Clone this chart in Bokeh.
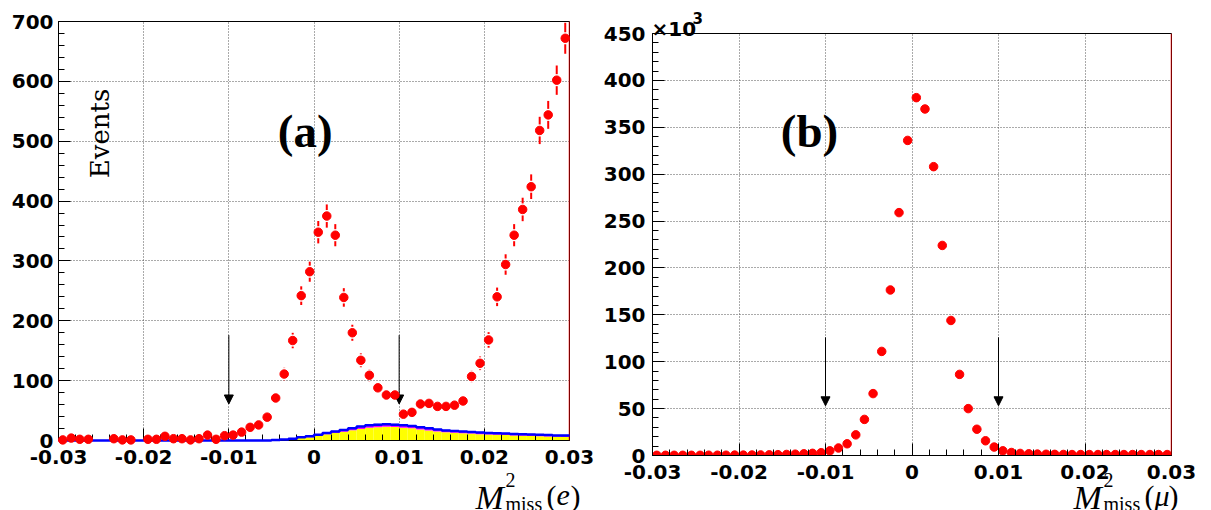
import numpy as np
from bokeh.plotting import figure
from bokeh.models import (SingleIntervalTicker, CustomJSTickFormatter, Arrow,
                          NormalHead, Span, GridBox, Range1d)
from bokeh.core.properties import value
from bokeh.embed import file_html
from bokeh.resources import INLINE

# ---------------- data ----------------
x_lo, x_hi = -0.03, 0.03
n_bins = 60
bin_edges = np.linspace(x_lo, x_hi, n_bins + 1)
bin_centers = 0.5 * (bin_edges[:-1] + bin_edges[1:])
nan = float("nan")

# (a) electron channel: data counts per bin (empty bins = nan)
counts_e = [1, 4, 2, 2, nan, nan, 3, 1, 1, nan, 2, 2, 7, 3, 3, 1, 3, 9, 2, 8,
            9, 14, 22, 26, 39, 71, 111, 167, 242, 282, 348, 375, 343, 239, 180, 134, 109, 88, 76, 76,
            44, 47, 61, 62, 57, 57, 59, 66, 107, 129, 168, 240, 294, 343, 386, 424, 518, 544, 602, 672]
errors_e = [1, 2, 1.4, 1.4, 0, 0, 1.7, 1, 1, 0, 1.4, 1.4, 2.6, 1.7, 1.7, 1, 1.7, 3, 1.4, 2.8,
            3, 3.7, 4.7, 5.1, 6.2, 8.4, 10.5, 12.9, 15.6, 16.8, 18.7, 19.4, 18.5, 15.5, 13.4, 11.6, 10.4, 9.4, 8.7, 8.7,
            6.6, 6.9, 7.8, 7.9, 7.5, 7.5, 7.7, 8.1, 10.3, 11.4, 13, 15.5, 17.1, 18.5, 19.6, 20.6, 22.8, 23.3, 24.5, 25.9]
# (a) background MC components (stacked)
bkg_yellow = [0] * 25 + [0.6, 1, 2.2, 4.3, 5.6, 7.6, 10.4, 12.4, 14.7, 17, 19.4, 21.3, 22.3, 23.0, 22.5,
                         21.3, 20.3, 18.4, 16.9, 15, 13.6, 13, 12, 11.5, 10.5, 10, 9.5, 9, 8.4, 7.9,
                         7.4, 6.9, 6.5, 6.1, 5.9]
bkg_magenta = [0] * 25 + [0.4, 0.5, 0.8, 1.2, 1.4, 1.8, 2.3, 2.6, 3.0, 3.4, 3.8, 4.1, 4.2, 4.0, 4.0,
                          4.1, 4.0, 3.7, 3.5, 3.2, 3.0, 3.0, 2.9, 2.9, 2.8, 2.7, 2.7, 2.6, 2.6, 2.6,
                          2.6, 2.5, 2.5, 2.4, 2.4]
bkg_lavender = [0] * 25 + [0.3, 0.4, 0.6, 0.8, 1, 1.2, 1.4, 1.5, 1.6, 1.7, 1.8, 1.8, 1.8, 1.8, 1.8,
                           1.8, 1.8, 1.7, 1.7, 1.6, 1.6, 1.6, 1.5, 1.5, 1.5, 1.5, 1.4, 1.4, 1.4, 1.4,
                           1.4, 1.3, 1.3, 1.3, 1.3]

# (b) muon channel: data counts per bin, in units of 10^3
counts_mu = [0.2, 0.2, 0.2, 0.2, 0.2, 0.2, 0.3, 0.3, 0.3, 0.4, 0.4, 0.5, 0.6, 0.7, 0.9, 1.1, 1.4, 1.8, 2.3, 3.0,
             5.0, 8.0, 12.5, 22, 38.5, 66, 111, 176.5, 259, 336, 381.6, 369.5, 308, 224, 144, 86.5, 50, 28, 15.7, 9,
             5, 3.2, 2.2, 1.8, 1.5, 1.3, 1.2, 1.1, 1.0, 1.0, 1.0, 1.0, 1.0, 1.0, 1.0, 1.0, 1.0, 1.0, 1.0, 1.0]

# selection-window arrows
arrow_x = [-0.01, 0.01]
arrow_e_top, arrow_e_tip = 176, 61
arrow_mu_top, arrow_mu_tip = 126, 53

x_ticks_interval = 0.01
y_e_interval = 100
y_mu_interval = 50

RED = "#ff0000"
TICK_FONT = "DejaVu Sans"
SERIF = "Liberation Serif"
W, H = 1211, 510


def no_align(p):
    if "frame_align" in p.properties():
        p.frame_align = False


def style_axes(p, y_interval, label_standoff_y):
    p.xaxis.ticker = SingleIntervalTicker(interval=x_ticks_interval, num_minor_ticks=5)
    p.yaxis.ticker = SingleIntervalTicker(interval=y_interval, num_minor_ticks=5)
    p.xaxis.formatter = CustomJSTickFormatter(code="return (Math.round(tick*100)/100).toString();")
    p.yaxis.formatter = CustomJSTickFormatter(code="return Math.round(tick).toString();")
    for ax in (p.xaxis, p.yaxis):
        ax.major_label_text_font = TICK_FONT
        ax.major_label_text_font_style = "bold"
        ax.major_label_text_font_size = "20px"
        ax.major_label_text_color = "black"
        ax.major_tick_in = 12
        ax.major_tick_out = 0
        ax.minor_tick_in = 6
        ax.minor_tick_out = 0
        ax.axis_line_color = "black"
        ax.major_tick_line_color = "black"
        ax.minor_tick_line_color = "black"
    p.xaxis.major_label_standoff = 9
    p.yaxis.major_label_standoff = label_standoff_y
    for g in (p.xgrid, p.ygrid):
        g.grid_line_color = "#555555"
        g.grid_line_dash = "1 2"
        g.grid_line_width = 1
    p.outline_line_color = "black"
    p.outline_line_width = 1
    p.background_fill_color = "white"
    p.border_fill_color = "white"
    p.add_layout(Span(location=x_hi, dimension="height", line_color=RED, line_width=1.5))
    no_align(p)


# ---------------- panel (a) ----------------
p1 = figure(width=600, height=510, x_range=(x_lo, x_hi), y_range=(0, 700),
            min_border_left=58, min_border_right=31, min_border_top=21, min_border_bottom=70,
            output_backend="svg", toolbar_location=None)
style_axes(p1, y_e_interval, 5)

yel = np.array(bkg_yellow, dtype=float)
mag = np.array(bkg_magenta, dtype=float)
lav = np.array(bkg_lavender, dtype=float)
p1.quad(left=bin_edges[:-1], right=bin_edges[1:], bottom=0, top=yel,
        fill_color="#ffff00", line_color=None)
p1.quad(left=bin_edges[:-1], right=bin_edges[1:], bottom=yel, top=yel + mag,
        fill_color="#ff00ff", line_color=None)
p1.quad(left=bin_edges[:-1], right=bin_edges[1:], bottom=yel + mag, top=yel + mag + lav,
        fill_color="#9999ff", fill_alpha=0.8, line_color=None)
tot = yel + mag
p1.step(x=bin_edges, y=np.append(tot, tot[-1]), mode="after", line_color="#0000ff",
        line_width=2.5, level="overlay")

ce = np.array(counts_e, dtype=float)
ee = np.array(errors_e, dtype=float)
gap_e = 6 * 700 / 419.0  # marker radius + small gap, in data units
mask = (~np.isnan(ce)) & (ee > gap_e)
p1.segment(x0=bin_centers[mask], y0=ce[mask] + gap_e, x1=bin_centers[mask], y1=ce[mask] + ee[mask],
           line_color=RED, line_width=2, level="overlay")
p1.segment(x0=bin_centers[mask], y0=ce[mask] - ee[mask], x1=bin_centers[mask], y1=ce[mask] - gap_e,
           line_color=RED, line_width=2, level="overlay")
ok = ~np.isnan(ce)
p1.scatter(x=bin_centers[ok], y=ce[ok], size=8.5, marker="circle", fill_color=RED, line_color=RED,
           level="overlay")

for ax_x in arrow_x:
    p1.add_layout(Arrow(end=NormalHead(size=9, fill_color="black", line_color="black", line_width=1),
                        x_start=ax_x, y_start=arrow_e_top, x_end=ax_x, y_end=arrow_e_tip,
                        line_color="black", line_width=1))

p1.text(x=[-0.0251], y=[513], text=["Events"], angle=np.pi / 2,
        text_font=value("DejaVu Serif"), text_font_size="26px",
        text_align="center", text_baseline="middle", text_color="black")
p1.text(x=[-0.00103], y=[517], text=["(a)"],
        text_font=value(SERIF), text_font_size="47px", text_font_style="bold",
        text_align="center", text_baseline="middle", text_color="black")

# ---------------- panel (b) ----------------
p2 = figure(width=611, height=510, x_range=(x_lo, x_hi), y_range=(0, 450),
            min_border_left=52, min_border_right=40, min_border_top=33, min_border_bottom=55,
            output_backend="svg", toolbar_location=None)
style_axes(p2, y_mu_interval, 7)

cm = np.array(counts_mu, dtype=float)
p2.scatter(x=bin_centers, y=cm, size=8.5, marker="circle", fill_color=RED, line_color=RED)

for ax_x in arrow_x:
    p2.add_layout(Arrow(end=NormalHead(size=9, fill_color="black", line_color="black", line_width=1),
                        x_start=ax_x, y_start=arrow_mu_top, x_end=ax_x, y_end=arrow_mu_tip,
                        line_color="black", line_width=1))

p2.text(x=[-0.01185], y=[346], text=["(b)"],
        text_font=value(SERIF), text_font_size="47px", text_font_style="bold",
        text_align="center", text_baseline="middle", text_color="black")

# ---------------- transparent overlay for texts outside the frames (pixel coords) ----------------
ov = figure(width=W, height=H, x_range=Range1d(0, W), y_range=Range1d(H, 0),
            min_border=0, min_border_left=0, min_border_right=0, min_border_top=0, min_border_bottom=0,
            x_axis_type=None, y_axis_type=None, output_backend="svg", toolbar_location=None)
ov.background_fill_alpha = 0
ov.border_fill_alpha = 0
ov.outline_line_color = None
no_align(ov)


def xtitle(x0, particle):
    # pieces of  M^2_miss(particle)
    pieces = [
        ("M", 0, 497, "34px", "italic"),
        ("2", 30, 479, "20px", "normal"),
        ("miss", 30, 503, "20px", "normal"),
        ("(", 71, 495, "30px", "normal"),
        (particle, 81, 495, "30px", "italic"),
        (")", 95, 495, "30px", "normal"),
    ]
    for txt, dx, yb, size, style in pieces:
        ov.text(x=[x0 + dx], y=[yb], text=[txt], text_font=value(SERIF), text_font_size=size,
                text_font_style=style, text_align="left", text_baseline="alphabetic",
                text_color="black")


xtitle(475, "e")
xtitle(1073, "\u03bc")
ov.text(x=[651], y=[28], text=["\u00d710"], text_font=value(TICK_FONT), text_font_style="bold",
        text_font_size="20px", text_align="left", text_baseline="alphabetic", text_color="black")
ov.text(x=[692], y=[17], text=["3"], text_font=value(TICK_FONT), text_font_style="bold",
        text_font_size="15px", text_align="left", text_baseline="alphabetic", text_color="black")

layout = GridBox(children=[(p1, 0, 0), (p2, 0, 1), (ov, 0, 0, 1, 2)], spacing=0)
open("out.html", "w").write(file_html(layout, INLINE))
